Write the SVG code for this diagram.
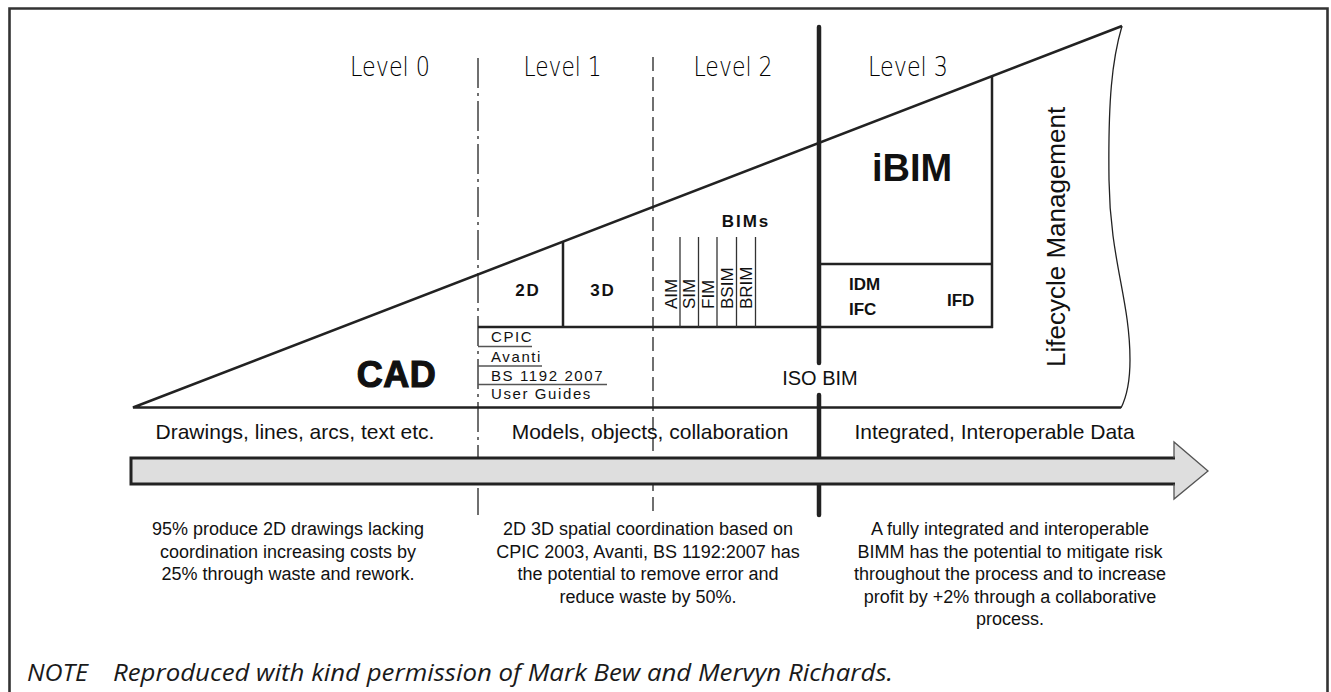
<svg xmlns="http://www.w3.org/2000/svg" width="1331" height="692" viewBox="0 0 1331 692">
<style>
text{font-family:"Liberation Sans",Arial,sans-serif;fill:#111}
.lvl{font-family:"DejaVu Sans",sans-serif;font-weight:300;font-size:26px;text-anchor:middle;fill:#000}
.ln{stroke:#222;stroke-width:2.5;fill:none}
.thin{stroke:#333;stroke-width:1.3;fill:none}
.ul{stroke:#555;stroke-width:1.4;fill:none}
.b{font-weight:bold}
.mid{text-anchor:middle}
.para{font-size:18px;text-anchor:middle}
.band{font-size:21px;text-anchor:middle}
.std{font-size:15px;letter-spacing:1.6px}
.vert{font-size:17px}
.note{font-family:"Open Sans","Noto Sans",sans-serif;font-size:24px;font-style:italic;fill:#1a1a1a}
</style>
<rect x="0" y="0" width="1331" height="692" fill="#fff"/>
<g id="frame">
<path d="M9.5,692 V8.5 H1327.5 V692" stroke="#333" stroke-width="2.6" fill="none"/>
</g>
<g id="levels">
<text class="lvl" x="390" y="76" textLength="80" lengthAdjust="spacingAndGlyphs">Level 0</text>
<text class="lvl" x="562.5" y="76" textLength="78" lengthAdjust="spacingAndGlyphs">Level 1</text>
<text class="lvl" x="733" y="76" textLength="79" lengthAdjust="spacingAndGlyphs">Level 2</text>
<text class="lvl" x="908" y="76" textLength="80" lengthAdjust="spacingAndGlyphs">Level 3</text>
</g>
<g id="connectors">
<line x1="478" y1="58" x2="478" y2="515" stroke="#333" stroke-width="1.4" stroke-dasharray="30 5 3 5"/>
<line x1="653" y1="57" x2="653" y2="515" stroke="#333" stroke-width="1.4" stroke-dasharray="14 6"/>
<line x1="819" y1="27" x2="819" y2="363" stroke="#222" stroke-width="4.5" stroke-linecap="round"/>
<line x1="819" y1="395" x2="819" y2="515" stroke="#222" stroke-width="4.5" stroke-linecap="round"/>
</g>
<g id="triangle">
<path class="ln" d="M1121,407.5 H133 L1122,26"/>
<path d="M1122,26 C1112,60 1108,100 1109,180 C1110,260 1130,300 1130,360 C1130,385 1126,398 1121,408" stroke="#222" stroke-width="1.3" fill="none"/>
</g>
<g id="cad">
<text class="b mid" x="396.5" y="387" font-size="36" stroke="#111" stroke-width="1.2" letter-spacing="0.5">CAD</text>
</g>
<g id="level1-boxes">
<line class="ln" x1="478" y1="327" x2="993" y2="327"/>
<line class="ln" x1="563" y1="241.5" x2="563" y2="327"/>
<text class="b mid" x="528" y="295.7" font-size="17" letter-spacing="2">2D</text>
<text class="b mid" x="603" y="295.7" font-size="17" letter-spacing="2">3D</text>
</g>
<g id="standards">
<text class="std" x="491" y="342.3">CPIC</text>
<line class="ul" x1="478" y1="346.5" x2="532" y2="346.5"/>
<text class="std" x="491" y="361.7">Avanti</text>
<line class="ul" x1="478" y1="366" x2="542" y2="366"/>
<text class="std" x="491" y="381">BS 1192 2007</text>
<line class="ul" x1="478" y1="384.5" x2="607" y2="384.5"/>
<text class="std" x="491" y="399.3">User Guides</text>
</g>
<g id="bims">
<text class="b mid" x="746" y="226.7" font-size="17" letter-spacing="2">BIMs</text>
<line class="thin" x1="680" y1="237" x2="680" y2="327"/>
<line class="thin" x1="698.5" y1="237" x2="698.5" y2="327"/>
<line class="thin" x1="717" y1="237" x2="717" y2="327"/>
<line class="thin" x1="736.5" y1="237" x2="736.5" y2="327"/>
<line class="thin" x1="755.5" y1="237" x2="755.5" y2="327"/>
<text class="vert" transform="translate(677,309) rotate(-90)">AIM</text>
<text class="vert" transform="translate(695,309) rotate(-90)">SIM</text>
<text class="vert" transform="translate(714,309) rotate(-90)">FIM</text>
<text class="vert" transform="translate(733.3,309) rotate(-90)">BSIM</text>
<text class="vert" transform="translate(752.3,309) rotate(-90)">BRIM</text>
</g>
<g id="ibim">
<line class="ln" x1="992" y1="76" x2="992" y2="328"/>
<line class="ln" x1="819" y1="264" x2="993" y2="264"/>
<text class="b mid" x="912" y="181" font-size="38">iBIM</text>
<text class="b" x="849" y="290" font-size="17">IDM</text>
<text class="b" x="849" y="315" font-size="17">IFC</text>
<text class="b" x="947" y="306" font-size="17">IFD</text>
</g>
<g id="isobim">
<text class="mid" x="820" y="385" font-size="20">ISO BIM</text>
</g>
<g id="lifecycle">
<text transform="translate(1065,367) rotate(-90)" font-size="26">Lifecycle Management</text>
</g>
<g id="band-labels">
<text class="band" x="295" y="439.3">Drawings, lines, arcs, text etc.</text>
<text class="band" x="650" y="439.3">Models, objects, collaboration</text>
<text class="band" x="994.5" y="439.3">Integrated, Interoperable Data</text>
</g>
<g id="arrow">
<rect x="131" y="458" width="1044" height="26" fill="#dedede"/>
<polygon points="1174,442 1208,471 1174,499" fill="#dedede"/>
<path d="M1175,458 H131 V484 H1175" stroke="#222" stroke-width="3" fill="none"/>
<path d="M1174,458 V442 L1208,471 L1174,499 V484" stroke="#555" stroke-width="1.3" fill="none"/>
</g>
<g id="desc-level0">
<text class="para" x="288" y="535">95% produce 2D drawings lacking</text>
<text class="para" x="288" y="557.5">coordination increasing costs by</text>
<text class="para" x="288" y="580">25% through waste and rework.</text>
</g>
<g id="desc-level1">
<text class="para" x="648" y="535">2D 3D spatial coordination based on</text>
<text class="para" x="648" y="557.5">CPIC 2003, Avanti, BS 1192:2007 has</text>
<text class="para" x="648" y="580">the potential to remove error and</text>
<text class="para" x="648" y="602.5">reduce waste by 50%.</text>
</g>
<g id="desc-level3">
<text class="para" x="1010" y="535">A fully integrated and interoperable</text>
<text class="para" x="1010" y="557.5">BIMM has the potential to mitigate risk</text>
<text class="para" x="1010" y="580">throughout the process and to increase</text>
<text class="para" x="1010" y="602.5">profit by +2% through a collaborative</text>
<text class="para" x="1010" y="625">process.</text>
</g>
<g id="note">
<text class="note" x="27" y="681" textLength="61" lengthAdjust="spacingAndGlyphs">NOTE</text>
<text class="note" x="113" y="681" textLength="780" lengthAdjust="spacingAndGlyphs">Reproduced with kind permission of Mark Bew and Mervyn Richards.</text>
</g>
</svg>
